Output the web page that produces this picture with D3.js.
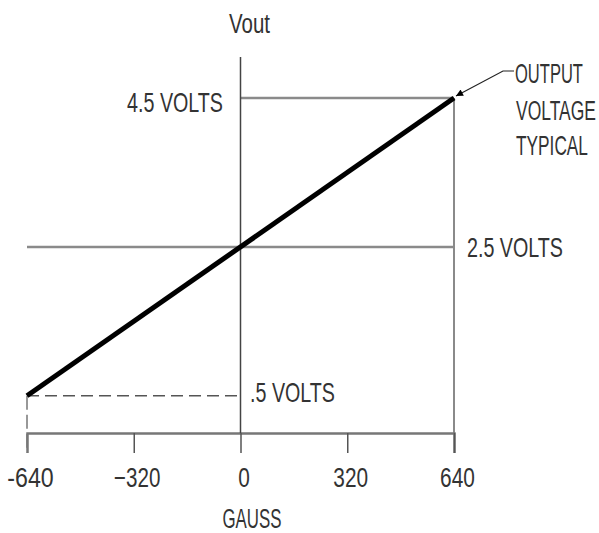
<!DOCTYPE html>
<html>
<head>
<meta charset="utf-8">
<script src="https://cdn.jsdelivr.net/npm/d3@7"></script>
<style>
  body { margin: 0; background: #fff; }
  svg text { font-family: "Liberation Sans Narrow", "Liberation Sans", Arial, sans-serif; fill: #333; }
</style>
</head>
<body>
<svg></svg>
<script>
// chart data
var gaussTicks = [-640, -320, 0, 320, 640];
var tickLabels = ["-640", "\u2212320", "0", "320", "640"];
var lineGauss = [-640, 640];
var lineVolts = [0.5, 4.5];
var refVolts = [4.5, 2.5, 0.5];
var refLabels = ["4.5 VOLTS", "2.5 VOLTS", ".5 VOLTS"];
var noteLines = ["OUTPUT", "VOLTAGE", "TYPICAL"];

var svgWidth = 599;
var svgHeight = 533;

var svg = d3.select("svg")
   .attr("width", svgWidth)
   .attr("height", svgHeight);

var x = d3.scaleLinear().domain([-640, 640]).range([27, 454]);
var y = d3.scaleLinear().domain([0, 4.5]).range([433, 98]);

// condensed text: squeeze the glyphs horizontally to the wanted width
function squeeze(sel, w) {
   var n = sel.node().getComputedTextLength();
   var s = n > 0 ? w / n : 1;
   return s;
}

function label(t, px, py, w, anchor) {
   var el = svg.append("text")
      .attr("font-size", 27)
      .attr("text-anchor", anchor || "start")
      .text(t);
   var s = squeeze(el, w);
   el.attr("transform", "translate(" + px + "," + py + ") scale(" + s + ",1)");
   return el;
}

// reference lines
svg.append("line")   // 4.5 V
   .attr("x1", x(0)).attr("x2", x(640))
   .attr("y1", y(refVolts[0])).attr("y2", y(refVolts[0]))
   .attr("stroke", "#8a8a8a").attr("stroke-width", 2.5);
svg.append("line")   // 2.5 V
   .attr("x1", x(-640)).attr("x2", x(640))
   .attr("y1", y(refVolts[1])).attr("y2", y(refVolts[1]))
   .attr("stroke", "#8a8a8a").attr("stroke-width", 2.5);
svg.append("line")   // .5 V dashed
   .attr("x1", x(-640)).attr("x2", x(0))
   .attr("y1", y(refVolts[2])).attr("y2", y(refVolts[2]))
   .attr("stroke", "#555").attr("stroke-width", 1.5)
   .attr("stroke-dasharray", "12,6");
svg.append("line")   // dashed drop at -640
   .attr("x1", x(-640)).attr("x2", x(-640))
   .attr("y1", y(0.5)).attr("y2", y(0) + 20)
   .attr("stroke", "#777").attr("stroke-width", 1.5)
   .attr("stroke-dasharray", "14,5");
svg.append("line")   // vertical at 640
   .attr("x1", x(640)).attr("x2", x(640))
   .attr("y1", y(4.5)).attr("y2", y(0))
   .attr("stroke", "#8a8a8a").attr("stroke-width", 2);

// x axis
var xAxis = d3.axisBottom(x)
   .tickValues(gaussTicks)
   .tickSize(20)
   .tickPadding(15)
   .tickFormat(function(d, i) { return tickLabels[i]; });

var gx = svg.append("g")
   .attr("transform", "translate(0," + y(0) + ")")
   .call(xAxis);
gx.select(".domain").attr("stroke", "#777").attr("stroke-width", 2.5);
gx.selectAll(".tick line").attr("stroke", "#555").attr("stroke-width", 1.5)
   .attr("opacity", function(d) { return d === -640 ? 0 : 1; });
gx.selectAll(".tick text")
   .attr("font-size", 27)
   .attr("fill", "#333")
   .attr("font-family", null)
   .each(function(d, i) {
      var t = d3.select(this);
      var s = squeeze(t, tickLabels[i].length * 11.6);
      t.attr("transform", "translate(3,0) scale(" + s + ",1)");
   });

// y axis (vertical at 0 gauss)
svg.append("line")
   .attr("x1", x(0)).attr("x2", x(0))
   .attr("y1", y(5.05)).attr("y2", y(0))
   .attr("stroke", "#444").attr("stroke-width", 1.5);

// output line
svg.append("path")
   .datum(d3.zip(lineGauss, lineVolts))
   .attr("d", d3.line().x(function(d) { return x(d[0]); }).y(function(d) { return y(d[1]); }))
   .attr("stroke", "#000").attr("stroke-width", 5).attr("fill", "none")
   .attr("stroke-linecap", "butt");

// leader arrow
svg.append("defs").append("marker")
   .attr("id", "arr")
   .attr("viewBox", "0 0 10 10")
   .attr("refX", 10).attr("refY", 5)
   .attr("markerWidth", 16).attr("markerHeight", 7)
   .attr("markerUnits", "userSpaceOnUse")
   .attr("orient", "auto")
   .append("path").attr("d", "M0,0L10,5L0,10Z").attr("fill", "#000");

svg.append("path")
   .attr("d", "M514,71L503,71L" + (x(640) + 2) + "," + (y(4.5) - 2))
   .attr("stroke", "#222").attr("stroke-width", 1.2).attr("fill", "none")
   .attr("marker-end", "url(#arr)");

// texts
label("Vout", 229, 33, 41);
label(refLabels[0], 223, 112, 96, "end");
label(refLabels[1], 467, 257, 96);
label(refLabels[2], 250, 402, 85);
label(noteLines[0], 515, 83, 68);
label(noteLines[1], 516, 120, 80);
label(noteLines[2], 516, 155, 72);
label("GAUSS", 252, 528, 59, "middle");
</script>
</body>
</html>
